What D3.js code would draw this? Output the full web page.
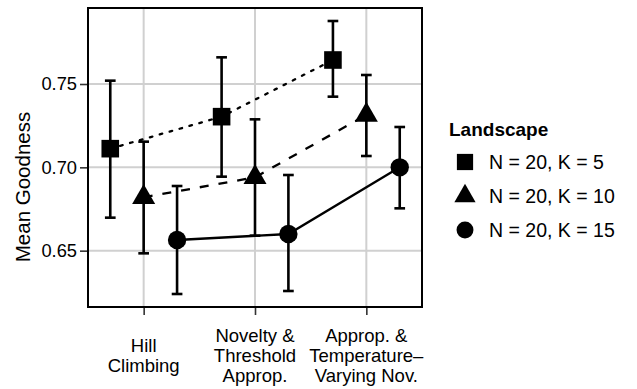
<!DOCTYPE html>
<html><head><meta charset="utf-8">
<script src="https://cdn.jsdelivr.net/npm/d3@7"></script>
<style>body{margin:0;background:#fff}svg{display:block}text{font-family:"Liberation Sans",Arial,sans-serif}</style>
</head><body><div id="chart"></div>
<script>
const categories = ["Hill\nClimbing", "Novelty &\nThreshold\nApprop.", "Approp. &\nTemperature\u2013\nVarying Nov."];
const seriesNames = ["N = 20, K = 5", "N = 20, K = 10", "N = 20, K = 15"];
const meanK5 = [0.7112, 0.7304, 0.7644];
const lowK5 = [0.6698, 0.6944, 0.7424];
const highK5 = [0.7520, 0.7660, 0.7878];
const meanK10 = [0.6820, 0.6940, 0.7314];
const lowK10 = [0.6484, 0.6590, 0.7068];
const highK10 = [0.7154, 0.7288, 0.7554];
const meanK15 = [0.6564, 0.6600, 0.7000];
const lowK15 = [0.6240, 0.6258, 0.6754];
const highK15 = [0.6888, 0.6954, 0.7242];
const yTicks = [0.65, 0.70, 0.75];
const yDomain = [0.6162, 0.7956];

const W = 637, H = 389;
const m = {left: 88, top: 8, right: 422, bottom: 307};
const svg = d3.select("#chart").append("svg").attr("width", W).attr("height", H);

const x = d3.scalePoint().domain(d3.range(categories.length)).range([m.left, m.right]).padding(0.5);
const step = x.step();
const dodge = d3.scalePoint().domain(d3.range(seriesNames.length)).range([-0.3 * step, 0.3 * step]);
const y = d3.scaleLinear().domain(yDomain).range([m.bottom, m.top]);

const series = [
  {name: seriesNames[0], mean: meanK5, low: lowK5, high: highK5, shape: d3.symbolSquare, size: 310, dash: "2.6,7.7", cap: "round"},
  {name: seriesNames[1], mean: meanK10, low: lowK10, high: highK10, shape: d3.symbolTriangle, size: 230, dash: "9,10", cap: "butt"},
  {name: seriesNames[2], mean: meanK15, low: lowK15, high: highK15, shape: d3.symbolCircle, size: 265, dash: null, cap: "butt"}
];

// grid
const g = svg.append("g");
g.selectAll(".gy").data(yTicks).join("line")
  .attr("x1", m.left).attr("x2", m.right).attr("y1", d => y(d)).attr("y2", d => y(d))
  .attr("stroke", "#d0d0d0").attr("stroke-width", 2);
g.selectAll(".gx").data(d3.range(categories.length)).join("line")
  .attr("x1", d => x(d)).attr("x2", d => x(d)).attr("y1", m.top).attr("y2", m.bottom)
  .attr("stroke", "#d0d0d0").attr("stroke-width", 2);

// axes
const yAxis = d3.axisLeft(y).tickValues(yTicks).tickFormat(d3.format(".2f")).tickSize(8).tickPadding(3);
const ya = svg.append("g").attr("transform", `translate(${m.left},0)`).call(yAxis);
ya.select(".domain").remove();
ya.selectAll("line").attr("stroke", "#333").attr("stroke-width", 1.6);
ya.selectAll("text").attr("font-size", 18.3).attr("fill", "#000").attr("font-family", "Liberation Sans, Arial, sans-serif");

const xAxis = d3.axisBottom(x).tickSize(8).tickFormat("");
const xa = svg.append("g").attr("transform", `translate(0,${m.bottom})`).call(xAxis);
xa.select(".domain").remove();
xa.selectAll("line").attr("stroke", "#333").attr("stroke-width", 1.6);

const lh = 20;
categories.forEach((c, i) => {
  const lines = c.split("\n");
  const t = svg.append("text").attr("text-anchor", "middle").attr("font-size", 18.5).attr("fill", "#000");
  const cy = 355;
  lines.forEach((ln, j) => {
    t.append("tspan").attr("x", x(i)).attr("y", cy + (j - (lines.length - 1) / 2) * lh + 6.5).text(ln);
  });
});

// y title
svg.append("text").attr("transform", `translate(30,187) rotate(-90)`).attr("text-anchor", "middle")
  .attr("font-size", 20.5).attr("fill", "#000").text("Mean Goodness");

// lines
series.forEach((s, k) => {
  const line = d3.line().x((d, i) => x(i) + dodge(k)).y(d => y(d));
  svg.append("path").attr("d", line(s.mean)).attr("fill", "none").attr("stroke", "#000")
    .attr("stroke-width", 2.3).attr("stroke-dasharray", s.dash).attr("stroke-linecap", s.cap);
});

// error bars
const capW = 10.7;
series.forEach((s, k) => {
  const eg = svg.append("g").attr("stroke", "#000").attr("stroke-width", 2.6);
  s.mean.forEach((v, i) => {
    const cx = x(i) + dodge(k);
    eg.append("line").attr("x1", cx).attr("x2", cx).attr("y1", y(s.low[i])).attr("y2", y(s.high[i]));
    eg.append("line").attr("x1", cx - capW / 2).attr("x2", cx + capW / 2).attr("y1", y(s.low[i])).attr("y2", y(s.low[i]));
    eg.append("line").attr("x1", cx - capW / 2).attr("x2", cx + capW / 2).attr("y1", y(s.high[i])).attr("y2", y(s.high[i]));
  });
});

// points
series.forEach((s, k) => {
  svg.append("g").selectAll("path").data(s.mean).join("path")
    .attr("transform", (d, i) => `translate(${x(i) + dodge(k)},${y(d)})`)
    .attr("d", d3.symbol().type(s.shape).size(s.size)).attr("fill", "#000");
});

// panel border
svg.append("rect").attr("x", m.left).attr("y", m.top).attr("width", m.right - m.left).attr("height", m.bottom - m.top)
  .attr("fill", "none").attr("stroke", "#000").attr("stroke-width", 2);

// legend
const lg = svg.append("g");
lg.append("text").attr("x", 449).attr("y", 136).attr("font-size", 19).attr("font-weight", "bold").attr("fill", "#000").text("Landscape");
const legY = [162, 196, 230];
series.forEach((s, k) => {
  lg.append("path").attr("transform", `translate(465,${legY[k]})`)
    .attr("d", d3.symbol().type(s.shape).size(s.size * 0.85)).attr("fill", "#000");
  lg.append("text").attr("x", 489).attr("y", legY[k]).attr("dy", "0.36em").attr("font-size", 19.5).attr("fill", "#000").text(s.name);
});
</script></body></html>
